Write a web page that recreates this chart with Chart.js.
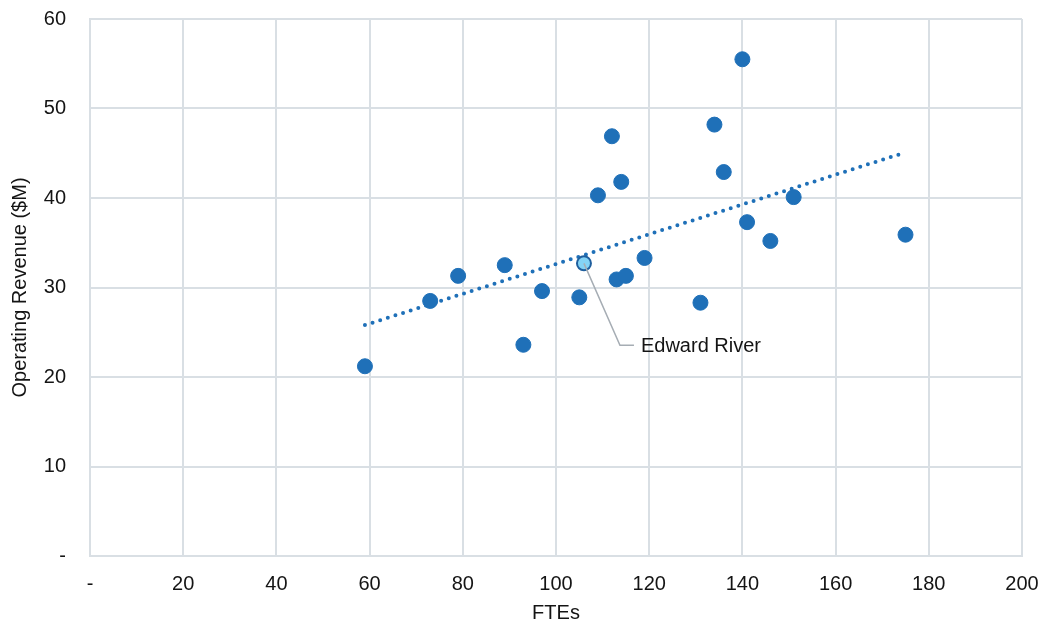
<!DOCTYPE html>
<html lang="en">
<head>
    <meta charset="UTF-8">
    <script src="https://cdn.jsdelivr.net/npm/chart.js"></script>
    <title>FTEs vs Operating Revenue</title>
    <style>
        body {
            margin: 0;
            background: #ffffff;
            font-family: "Liberation Sans", Arial, sans-serif;
        }
    </style>
</head>
<body>
<canvas id="myChart" width="1042" height="626"></canvas>
<script>
    // councils: FTEs and operating revenue ($M)
    const ftes    = [59, 73, 79, 89, 93, 97, 105, 109, 112, 113, 114, 115, 119, 131, 134, 136, 140, 141, 146, 151, 175];
    const revenue = [21.2, 28.5, 31.3, 32.5, 23.6, 29.6, 28.9, 40.3, 46.9, 30.9, 41.8, 31.3, 33.3, 28.3, 48.2, 42.9, 55.5, 37.3, 35.2, 40.1, 35.9];

    // highlighted council
    const highlightName = 'Edward River';
    const highlightFte = 106;
    const highlightRevenue = 32.7;

    // linear trendline end points
    const trendX = [59, 175];
    const trendY = [25.8, 45.1];

    const xTicks = [0, 20, 40, 60, 80, 100, 120, 140, 160, 180, 200];
    const yTicks = [0, 10, 20, 30, 40, 50, 60];

    const blue = '#1f70b8';
    const gridColor = '#d9dfe4';
    const textColor = '#141414';
    const fontFamily = '"Liberation Sans", Arial, sans-serif';

    function toPoints(xs, ys) {
        return xs.map((x, i) => ({x: x, y: ys[i]}));
    }

    // leader line + label for the highlighted point
    const calloutPlugin = {
        id: 'callout',
        afterDatasetsDraw(chart) {
            const ctx = chart.ctx;
            const xs = chart.scales.x, ys = chart.scales.y;
            const px = xs.getPixelForValue(highlightFte);
            const py = ys.getPixelForValue(highlightRevenue);
            const ex = px + 36, ey = py + 82;
            ctx.save();
            ctx.strokeStyle = '#a6adb4';
            ctx.lineWidth = 1.5;
            ctx.beginPath();
            ctx.moveTo(px, py);
            ctx.lineTo(ex, ey);
            ctx.lineTo(ex + 14, ey);
            ctx.stroke();
            ctx.fillStyle = textColor;
            ctx.font = '20px ' + fontFamily;
            ctx.textBaseline = 'middle';
            ctx.textAlign = 'left';
            ctx.fillText(highlightName, ex + 21, ey + 1);
            ctx.restore();
        }
    };

    new Chart(document.getElementById('myChart'), {
        type: 'scatter',
        data: {
            datasets: [
                {
                    label: 'Trend',
                    type: 'line',
                    data: toPoints(trendX, trendY),
                    borderColor: blue,
                    borderWidth: 4,
                    borderDash: [0, 8],
                    borderCapStyle: 'round',
                    pointRadius: 0,
                    fill: false,
                    order: 3
                },
                {
                    label: 'Councils',
                    data: toPoints(ftes, revenue),
                    backgroundColor: blue,
                    borderColor: blue,
                    pointRadius: 7.5,
                    pointHoverRadius: 7.5,
                    order: 2
                },
                {
                    label: highlightName,
                    data: [{x: highlightFte, y: highlightRevenue}],
                    backgroundColor: '#84d3f5',
                    borderColor: '#1f5f9e',
                    borderWidth: 2,
                    pointRadius: 7,
                    order: 1
                }
            ]
        },
        options: {
            responsive: false,
            animation: false,
            layout: {
                padding: 0
            },
            plugins: {
                legend: {display: false},
                tooltip: {enabled: false}
            },
            scales: {
                x: {
                    type: 'linear',
                    min: 0,
                    max: 200,
                    afterBuildTicks(scale) {
                        scale.ticks = xTicks.map(v => ({value: v}));
                    },
                    afterFit(scale) {
                        scale.height = 70;
                        scale.paddingLeft = 0;
                        scale.paddingRight = 20;
                    },
                    grid: {
                        color: gridColor,
                        lineWidth: 2,
                        drawTicks: false
                    },
                    border: {color: gridColor, width: 2},
                    ticks: {
                        color: textColor,
                        padding: 16,
                        font: {family: fontFamily, size: 20},
                        callback: v => v === 0 ? '-' : v
                    },
                    title: {
                        display: true,
                        text: 'FTEs',
                        color: textColor,
                        font: {family: fontFamily, size: 20},
                        padding: {top: 4, bottom: 1}
                    }
                },
                y: {
                    type: 'linear',
                    min: 0,
                    max: 60,
                    afterBuildTicks(scale) {
                        scale.ticks = yTicks.map(v => ({value: v}));
                    },
                    afterFit(scale) {
                        scale.width = 90;
                        scale.paddingTop = 19;
                        scale.paddingBottom = 0;
                    },
                    grid: {
                        color: gridColor,
                        lineWidth: 2,
                        drawTicks: false
                    },
                    border: {color: gridColor, width: 2},
                    ticks: {
                        color: textColor,
                        padding: 24,
                        font: {family: fontFamily, size: 20},
                        callback: v => v === 0 ? '-' : v
                    },
                    title: {
                        display: true,
                        text: 'Operating Revenue ($M)',
                        color: textColor,
                        font: {family: fontFamily, size: 20},
                        padding: {top: 8, bottom: 4}
                    }
                }
            }
        },
        plugins: [calloutPlugin]
    });
</script>
</body>
</html>
